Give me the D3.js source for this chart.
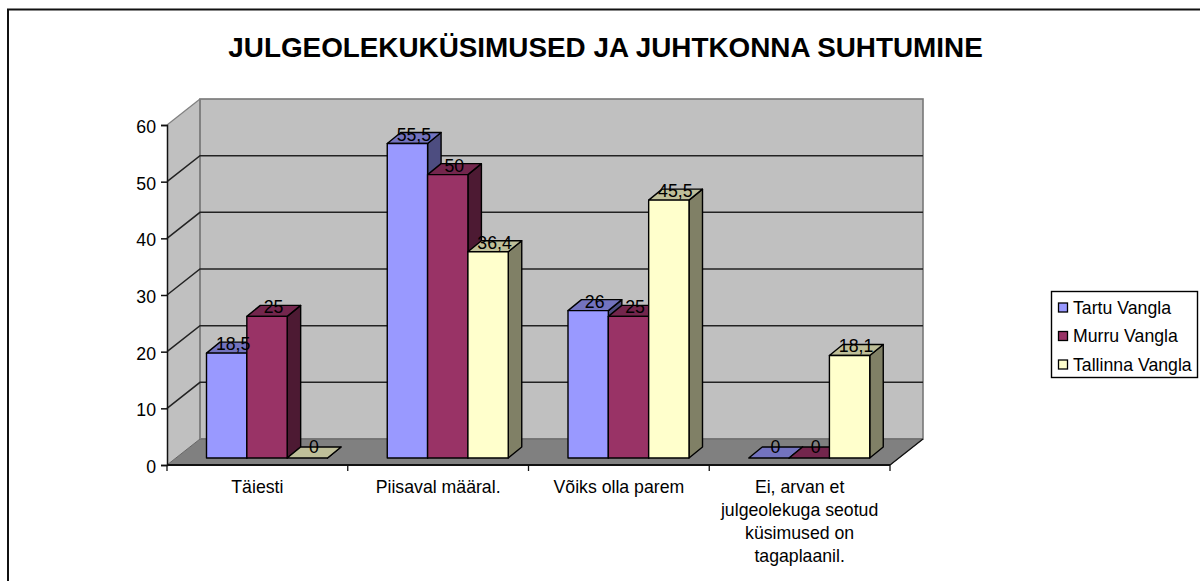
<!DOCTYPE html>
<html>
<head>
<meta charset="utf-8">
<script src="https://cdn.jsdelivr.net/npm/d3@7"></script>
<style>
    html, body { margin: 0; padding: 0; background: #fff; }
    svg { display: block; }
    text { font-family: "Liberation Sans", Arial, sans-serif; fill: #000; }
</style>
</head>
<body>
<svg id="chart" width="1200" height="581"></svg>
<script>
const categories = ["Täiesti", "Piisaval määral.", "Võiks olla parem", "Ei, arvan et julgeolekuga seotud küsimused on tagaplaanil."];
const categoryLines = [
    ["Täiesti"],
    ["Piisaval määral."],
    ["Võiks olla parem"],
    ["Ei, arvan et", "julgeolekuga seotud", "küsimused on", "tagaplaanil."]
];
const seriesNames = ["Tartu Vangla", "Murru Vangla", "Tallinna Vangla"];
const tartuValues = [18.5, 55.5, 26, 0];
const murruValues = [25, 50, 25, 0];
const tallinnValues = [0, 36.4, 45.5, 18.1];
const yTicks = [0, 10, 20, 30, 40, 50, 60];
const titleText = "JULGEOLEKUKÜSIMUSED JA JUHTKONNA SUHTUMINE";

const frontColors = ["#9999ff", "#993366", "#ffffcc"];
const topColors = ["#7373bf", "#73264d", "#bfbf99"];
const sideColors = ["#4d4d80", "#4d1a33", "#808066"];

const svg = d3.select("#chart");
const labelSize = "17.7px";

// plot box, front edge of the floor
const plotLeft = 167, plotRight = 890, plotBottom = 465, plotTop = 125;
// depth of the whole 3d box
const depthX = 33, depthY = -26;
// bars stand a little behind the front edge and have their own depth
const barShiftX = 39.5, barBaseShift = -7;
const barDepthX = 13.5, barDepthY = -11;
const groupWidth = 121;

const yScale = d3.scaleLinear().domain([0, 60]).range([plotBottom, plotTop]);
const xScale = d3.scaleBand().domain(categories).range([plotLeft, plotRight]);
const groupScale = d3.scaleBand().domain(seriesNames).range([0, groupWidth]);

const poly = pts => pts.map(p => p.join(",")).join(" ");

// outer frame, open at the bottom
svg.append("path")
    .attr("d", "M8,581V9.5H1200")
    .attr("fill", "none")
    .attr("stroke", "#111")
    .attr("stroke-width", 2);

// title
svg.append("text")
    .attr("x", 605.5)
    .attr("y", 57)
    .attr("text-anchor", "middle")
    .attr("font-size", "27.85px")
    .attr("font-weight", "bold")
    .text(titleText);

// walls and floor
svg.append("polygon")
    .attr("points", poly([[plotLeft, plotBottom], [plotLeft + depthX, plotBottom + depthY], [plotLeft + depthX, plotTop + depthY], [plotLeft, plotTop]]))
    .attr("fill", "#c0c0c0");
svg.append("path")
    .attr("d", `M${plotLeft},${plotTop}L${plotLeft + depthX},${plotTop + depthY}`)
    .attr("stroke", "#808080")
    .attr("stroke-width", 1.2);
svg.append("rect")
    .attr("x", plotLeft + depthX)
    .attr("y", plotTop + depthY)
    .attr("width", plotRight - plotLeft)
    .attr("height", plotBottom - plotTop)
    .attr("fill", "#c0c0c0")
    .attr("stroke", "#777")
    .attr("stroke-width", 1.6);
svg.append("polygon")
    .attr("points", poly([[plotLeft, plotBottom], [plotLeft + depthX, plotBottom + depthY], [plotRight + depthX, plotBottom + depthY], [plotRight, plotBottom]]))
    .attr("fill", "#808080")
    .attr("stroke", "#666")
    .attr("stroke-width", 1);
svg.append("line")
    .attr("x1", plotLeft + depthX).attr("x2", plotLeft + depthX)
    .attr("y1", plotTop + depthY).attr("y2", plotBottom + depthY)
    .attr("stroke", "#808080")
    .attr("stroke-width", 1.6);

// gridlines, run along the side wall then the back wall
svg.append("g")
    .selectAll("path")
    .data(yTicks.filter(d => d > 0 && d < 60))
    .join("path")
    .attr("d", d => `M${plotLeft},${yScale(d)}L${plotLeft + depthX},${yScale(d) + depthY}H${plotRight + depthX}`)
    .attr("fill", "none")
    .attr("stroke", "#222")
    .attr("stroke-width", 1.5);

// y axis
const yAxis = svg.append("g")
    .attr("transform", `translate(${plotLeft},0)`)
    .call(d3.axisLeft(yScale).tickValues(yTicks).tickSize(6).tickPadding(5));
yAxis.selectAll("text").attr("font-size", labelSize).attr("font-family", null).attr("dy", "0.42em");
yAxis.selectAll("line, path").attr("stroke", "#111").attr("stroke-width", 1.5);

// x axis
svg.append("line")
    .attr("x1", plotLeft).attr("x2", plotRight)
    .attr("y1", plotBottom).attr("y2", plotBottom)
    .attr("stroke", "#111")
    .attr("stroke-width", 2);
svg.append("line")
    .attr("x1", plotRight).attr("x2", plotRight + depthX)
    .attr("y1", plotBottom).attr("y2", plotBottom + depthY)
    .attr("stroke", "#111")
    .attr("stroke-width", 1.3);
svg.append("g")
    .selectAll("line")
    .data(categories.concat([null]))
    .join("line")
    .attr("x1", d => d === null ? plotRight : xScale(d))
    .attr("x2", d => d === null ? plotRight : xScale(d))
    .attr("y1", plotBottom)
    .attr("y2", plotBottom + 6)
    .attr("stroke", "#111")
    .attr("stroke-width", 1.3);

// category labels
categoryLines.forEach(function (lines, i) {
    const cx = xScale(categories[i]) + xScale.bandwidth() / 2;
    svg.append("text")
        .attr("text-anchor", "middle")
        .attr("font-size", labelSize)
        .selectAll("tspan")
        .data(lines)
        .join("tspan")
        .attr("x", cx)
        .attr("y", (d, k) => 493 + k * 23)
        .text(d => d);
});

// one bar: front face, top face, side face
const barRows = [tartuValues, murruValues, tallinnValues];
categories.forEach(function (cat, c) {
    barRows.forEach(function (values, s) {
        const x0 = xScale(cat) + barShiftX + groupScale(seriesNames[s]);
        const x1 = x0 + groupScale.bandwidth();
        const y0 = yScale(0) + barBaseShift;
        const y1 = yScale(values[c]) + barBaseShift;
        const g = svg.append("g")
            .attr("stroke", "#000")
            .attr("stroke-width", 1.4)
            .attr("stroke-linejoin", "round");
        g.append("polygon")
            .attr("points", poly([[x1, y0], [x1 + barDepthX, y0 + barDepthY], [x1 + barDepthX, y1 + barDepthY], [x1, y1]]))
            .attr("fill", sideColors[s]);
        g.append("polygon")
            .attr("points", poly([[x0, y1], [x0 + barDepthX, y1 + barDepthY], [x1 + barDepthX, y1 + barDepthY], [x1, y1]]))
            .attr("fill", topColors[s]);
        g.append("rect")
            .attr("x", x0)
            .attr("y", y1)
            .attr("width", x1 - x0)
            .attr("height", y0 - y1)
            .attr("fill", frontColors[s]);
    });
});

// data labels go on top of all bars
categories.forEach(function (cat, c) {
    barRows.forEach(function (values, s) {
        const x0 = xScale(cat) + barShiftX + groupScale(seriesNames[s]);
        svg.append("text")
            .attr("x", x0 + groupScale.bandwidth() / 2 + 6.5)
            .attr("y", yScale(values[c]) + barBaseShift - (values[c] === 0 ? 5 : 3))
            .attr("text-anchor", "middle")
            .attr("font-size", labelSize)
            .text(String(values[c]).replace(".", ","));
    });
});

// legend
const legend = svg.append("g");
legend.append("rect")
    .attr("x", 1051.5)
    .attr("y", 291.5)
    .attr("width", 146)
    .attr("height", 86)
    .attr("fill", "#fff")
    .attr("stroke", "#000")
    .attr("stroke-width", 1.4);
seriesNames.forEach(function (name, s) {
    const cy = 307.5 + s * 28.5;
    legend.append("rect")
        .attr("x", 1058.5)
        .attr("y", cy - 4.5)
        .attr("width", 9)
        .attr("height", 9)
        .attr("fill", frontColors[s])
        .attr("stroke", "#000")
        .attr("stroke-width", 1.3);
    legend.append("text")
        .attr("x", 1073)
        .attr("y", cy + 6)
        .attr("font-size", labelSize)
        .text(name);
});
</script>
</body>
</html>
